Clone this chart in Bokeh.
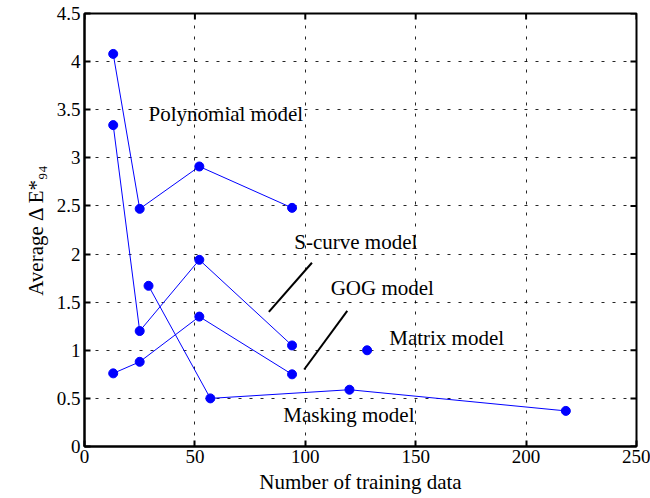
from bokeh.plotting import figure
from bokeh.models import Range1d, FixedTicker
from bokeh.embed import file_html
from bokeh.resources import INLINE
from bokeh.core.properties import value
import math

# ---- data ----
poly_x = [13, 25, 52, 94]
poly_y = [4.08, 2.47, 2.91, 2.48]
scurve_x = [13, 25, 52, 94]
scurve_y = [3.34, 1.20, 1.94, 1.05]
gog_x = [13, 25, 52, 94]
gog_y = [0.76, 0.88, 1.35, 0.75]
mask_x = [29, 57, 120, 218]
mask_y = [1.67, 0.50, 0.59, 0.37]
matrix_x = [128]
matrix_y = [1.00]

label_texts = ["Polynomial model", "S-curve model", "GOG model", "Matrix model", "Masking model"]
label_x = [29, 95, 111.5, 138, 90]
label_y = [3.46, 2.13, 1.65, 1.13, 0.33]

pointer_x0 = [83.5, 99.5]
pointer_y0 = [1.40, 0.80]
pointer_x1 = [103, 119]
pointer_y1 = [1.91, 1.41]

x_ticks = [0, 50, 100, 150, 200, 250]
y_ticks = [0, 0.5, 1, 1.5, 2, 2.5, 3, 3.5, 4, 4.5]
X_MIN, X_MAX = 0, 250
Y_MIN, Y_MAX = 0, 4.5

FONT = "Liberation Serif"
BLUE = "#0000FF"

p = figure(width=650, height=498, output_backend="svg", toolbar_location=None,
           x_range=Range1d(X_MIN, X_MAX), y_range=Range1d(Y_MIN, Y_MAX),
           min_border_left=84, min_border_right=14, min_border_top=13, min_border_bottom=52)

p.outline_line_color = "black"
p.outline_line_width = 2
p.background_fill_color = "white"
p.border_fill_color = "white"

for ax in (p.xaxis[0], p.yaxis[0]):
    ax.major_tick_in = 6
    ax.major_tick_out = 0
    ax.minor_tick_in = 0
    ax.minor_tick_out = 0
    ax.axis_line_width = 2
    ax.major_tick_line_width = 2
    ax.major_label_text_font = FONT
    ax.major_label_text_font_size = "19px"
    ax.major_label_text_color = "black"
    ax.axis_label_text_font = FONT
    ax.axis_label_text_font_size = "21px"
    ax.axis_label_text_font_style = "normal"
    ax.axis_label_text_color = "black"

p.xaxis[0].ticker = FixedTicker(ticks=x_ticks)
p.yaxis[0].ticker = FixedTicker(ticks=y_ticks)
p.xaxis[0].axis_label = "Number of training data"
p.yaxis[0].axis_label = "Average Δ E*₉₄"
p.xaxis[0].major_label_standoff = 3
p.yaxis[0].major_label_standoff = 4
p.xaxis[0].axis_label_standoff = 4
p.yaxis[0].axis_label_standoff = 6

p.xgrid.ticker = FixedTicker(ticks=x_ticks)
p.ygrid.ticker = FixedTicker(ticks=y_ticks)
p.grid.grid_line_color = "black"
p.grid.grid_line_dash = "3 8"
p.grid.grid_line_width = 1
p.grid.grid_line_alpha = 0.85

# inward ticks on the top and right edges (half of each dash is clipped by the frame)
p.scatter(x_ticks, [Y_MAX] * len(x_ticks), marker="dash", size=12, angle=math.pi / 2,
          line_color="black", line_width=2)
p.scatter([X_MAX] * len(y_ticks), y_ticks, marker="dash", size=12,
          line_color="black", line_width=2)

for xs, ys in ((poly_x, poly_y), (scurve_x, scurve_y), (gog_x, gog_y), (mask_x, mask_y)):
    p.line(xs, ys, line_color=BLUE, line_width=1)
    p.scatter(xs, ys, size=9, fill_color=BLUE, line_color=BLUE)
p.scatter(matrix_x, matrix_y, size=9, fill_color=BLUE, line_color=BLUE)

p.segment(x0=pointer_x0, y0=pointer_y0, x1=pointer_x1, y1=pointer_y1,
          line_color="black", line_width=2)

p.text(x=label_x, y=label_y, text=label_texts, text_font=value(FONT),
       text_font_size="21px", text_color="black", text_align="left",
       text_baseline="middle")

open("out.html", "w").write(file_html(p, INLINE))
